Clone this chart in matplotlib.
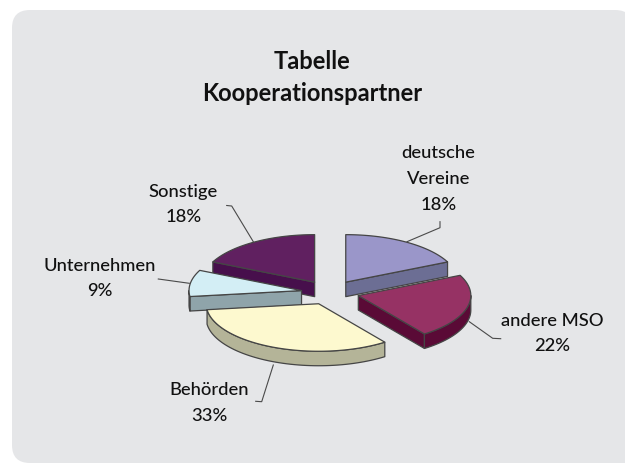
import matplotlib
matplotlib.use("Agg")
import matplotlib.pyplot as plt
from matplotlib.patches import FancyBboxPatch, Polygon, Rectangle
import numpy as np

# data
categories = ["deutsche\nVereine", "andere MSO", "Behörden", "Unternehmen", "Sonstige"]
shares = [18, 22, 33, 9, 18]
top_colors = ["#9A96C9", "#963264", "#FDF9CF", "#D3EEF5", "#602060"]
side_colors = ["#6C6E94", "#5A0A36", "#B4B498", "#8FA4AA", "#470F4C"]

# pie geometry in pixels
CX, CY = 330.2, 292.5
RX, RY = 112.5, 47.5
EXPLODE = 0.258
DEPTH = 14.5
EDGE = "#454545"

# label text centre x, first baseline y
label_pos = [(438.5, 158.3), (552, 325.7), (209, 395), (99.5, 270.7), (183.5, 196.7)]
leaders = [
    [(407, 241.7), (440, 227.7), (440, 221.7)],
    [(469.3, 321.7), (492.7, 338.3), (500.7, 338.7)],
    [(273.3, 365), (261.7, 401.7), (255.7, 401.3)],
    [(189.3, 283.3), (158.3, 279)],
    [(253.3, 241.7), (231.7, 206), (226.7, 205.5)],
]
FONT = ["Lato", "DejaVu Sans"]

fig = plt.figure(figsize=(6.25, 4.63), dpi=100)
ax = fig.add_axes([0, 0, 1, 1])
ax.set_xlim(0, 625)
ax.set_ylim(463, 0)
ax.axis("off")

# panel runs off the right and bottom edges, bottom right stays square
ax.add_patch(FancyBboxPatch((12, 10), 621, 453, boxstyle="round,pad=0,rounding_size=18",
                            fc="#E5E6E8", ec="none"))
ax.add_patch(Rectangle((560, 400), 65, 63, fc="#E5E6E8", ec="none"))


def rim(deg, ox, oy):
    t = np.radians(deg)
    return np.column_stack([ox + RX * np.sin(t), oy - RY * np.cos(t)])


def down(pts):
    return pts + np.array([0, DEPTH])


fractions = np.array(shares) / sum(shares) * 360
ends = np.cumsum(fractions)
starts = ends - fractions

# back wedges first so the front ones overlap them
order = sorted(range(len(shares)), key=lambda i: -np.cos(np.radians((starts[i] + ends[i]) / 2)))
for i in order:
    a, b = starts[i], ends[i]
    mid = np.radians((a + b) / 2)
    ox = CX + EXPLODE * RX * np.sin(mid)
    oy = CY - EXPLODE * RY * np.cos(mid)
    apex = np.array([[ox, oy]])
    # only the cut faces turned towards the viewer
    visible = []
    if np.sin(np.radians(a)) < -1e-6:
        visible.append(a)
    if np.sin(np.radians(b)) > 1e-6:
        visible.append(b)
    for ang in visible:
        edge = np.vstack([apex, rim(ang, ox, oy)])
        face = np.vstack([edge, down(edge)[::-1]])
        ax.add_patch(Polygon(face, closed=True, fc=side_colors[i], ec=EDGE, lw=0.9, joinstyle="round"))
    lo, hi = max(a, 90), min(b, 270)
    if hi > lo:
        arc = rim(np.linspace(lo, hi, 60), ox, oy)
        ax.add_patch(Polygon(np.vstack([arc, down(arc)[::-1]]), closed=True,
                             fc=side_colors[i], ec=EDGE, lw=0.9, joinstyle="round"))
    top = np.vstack([apex, rim(np.linspace(a, b, 80), ox, oy)])
    ax.add_patch(Polygon(top, closed=True, fc=top_colors[i], ec=EDGE, lw=0.9, joinstyle="round"))

for pts in leaders:
    xs, ys = zip(*pts)
    ax.plot(xs, ys, color="#4A4A4A", lw=0.8, solid_joinstyle="miter")

LINE = 25.6
for name, val, (x, y) in zip(categories, shares, label_pos):
    for k, line in enumerate(name.split("\n") + [f"{val}%"]):
        ax.text(x, y + k * LINE, line, ha="center", va="baseline", family=FONT,
                fontsize=13.2, fontweight="medium", color="#111111")

ax.text(311.7, 69, "Tabelle", ha="center", va="baseline", family=FONT, fontsize=17,
        fontweight="bold", color="#111111")
ax.text(311.7, 100.7, "Kooperationspartner", ha="center", va="baseline", family=FONT, fontsize=17,
        fontweight="bold", color="#111111")

fig.savefig("out.png", dpi=100)
